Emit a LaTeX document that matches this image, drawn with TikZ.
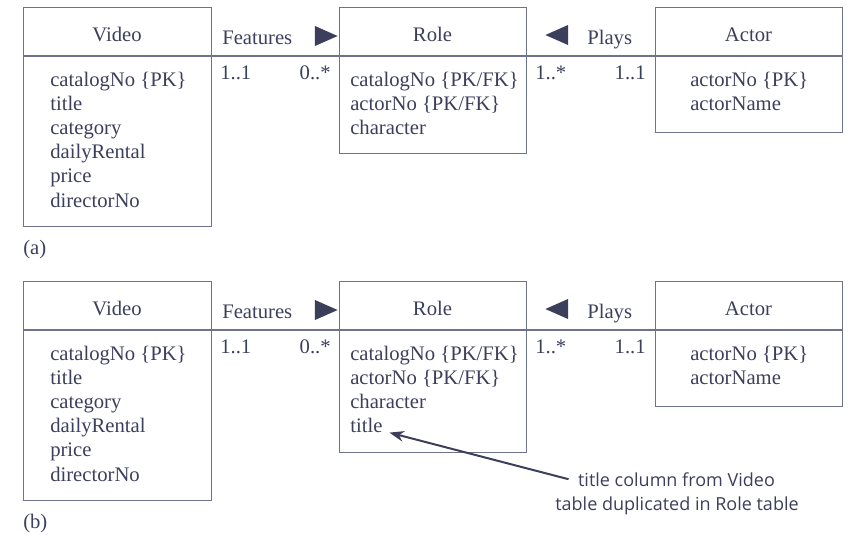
\documentclass[tikz,border=0pt]{standalone}
\usepackage{fontspec}
\setmainfont{Liberation Serif}
\setsansfont{Open Sans}
\usetikzlibrary{shapes.geometric,arrows.meta}
\definecolor{inkc}{HTML}{3C3F5C}
\definecolor{linec}{HTML}{6E728C}
\tikzset{
    tbl/.style={draw=linec, line width=0.9pt, anchor=north west, inner sep=0pt},
    rule/.style={draw=linec, line width=0.9pt},
    hdr/.style={anchor=base, text=inkc, inner sep=0pt, font=\fontsize{15.5}{18}\selectfont},
    attr/.style={anchor=base west, text=inkc, inner sep=0pt, font=\fontsize{15.5}{18}\selectfont},
    multl/.style={anchor=base west, text=inkc, inner sep=0pt, font=\fontsize{15.5}{18}\selectfont},
    multr/.style={anchor=base east, text=inkc, inner sep=0pt, font=\fontsize{15.5}{18}\selectfont},
    dirtri/.style={isosceles triangle, isosceles triangle stretches, fill=inkc,
        inner sep=0pt, minimum height=17pt, minimum width=15pt},
    notetxt/.style={anchor=base, text=inkc, inner sep=0pt, font=\sffamily\fontsize{13.5}{17}\selectfont},
}
\begin{document}
\begin{tikzpicture}[x=0.75pt, y=-0.75pt]
    \useasboundingbox (0,0) rectangle (853,540);

    \foreach \p/\dy/\rh in {a/0/146, b/274/171}{
    \begin{scope}[shift={(0,\dy)}]
        % tables
        \node[tbl, minimum width=141pt, minimum height=164.25pt] (video\p) at (23,7) {};
        \node[tbl, minimum width=140.25pt, minimum height={\rh*0.75pt}] (role\p) at (339,7) {};
        \node[tbl, minimum width=140.25pt, minimum height=93.75pt] (actor\p) at (655,7) {};
        \draw[rule] ([yshift=-36.75pt]video\p.north west) -- ([yshift=-36.75pt]video\p.north east);
        \draw[rule] ([yshift=-36.75pt]role\p.north west) -- ([yshift=-36.75pt]role\p.north east);
        \draw[rule] ([yshift=-36.75pt]actor\p.north west) -- ([yshift=-36.75pt]actor\p.north east);
        \node[hdr] (vh\p) at (117,41) {Video};
        \node[hdr] (rh\p) at (432.5,41) {Role};
        \node[hdr] (ah\p) at (748.5,41) {Actor};
        \foreach \t [count=\i] in {{catalogNo \{PK\}}, title, category, dailyRental, price, directorNo}
            \node[attr] (va\p\i) at (50,{86+24.2*(\i-1)}) {\t};
        \foreach \t [count=\i] in {{catalogNo \{PK/FK\}}, {actorNo \{PK/FK\}}, character}
            \node[attr] (ra\p\i) at (350,{86+24.2*(\i-1)}) {\t};
        \foreach \t [count=\i] in {{actorNo \{PK\}}, actorName}
            \node[attr] (aa\p\i) at (690,{86+24.2*(\i-1)}) {\t};

        % relationships
        \draw[rule] ([yshift=-36.75pt]video\p.north east) -- ([yshift=-36.75pt]role\p.north west);
        \draw[rule] ([yshift=-36.75pt]role\p.north east) -- ([yshift=-36.75pt]actor\p.north west);
        \node[multl] (feat\p) at (222,44) {Features};
        \node[dirtri] (ftri\p) at (321.5,36) {};
        \node[multl] (plays\p) at (587,44) {Plays};
        \node[dirtri, shape border rotate=180] (ptri\p) at (561.5,35) {};
        \node[multl] (vm\p) at (220,79) {1..1};
        \node[multr] (rm\p) at (331,79) {0..*};
        \node[multl] (rn\p) at (535,79) {1..*};
        \node[multr] (am\p) at (646,79) {1..1};
        \node[multl] (lbl\p) at (23,254) {(\p)};
    \end{scope}
    }

    % duplicated column
    \node[attr] (ttlb) at (350,{360+24.2*3}) {title};
    \node[notetxt] (note1) at (676.5,486) {title column from Video};
    \node[notetxt] (note2) at (677,510) {table duplicated in Role table};
    \draw[inkc, line width=1.5pt, -{Stealth[length=11pt, width=8pt]}]
        ([xshift=-7pt]note1.west) -- ([xshift=5pt]ttlb.base east);
\end{tikzpicture}
\end{document}
